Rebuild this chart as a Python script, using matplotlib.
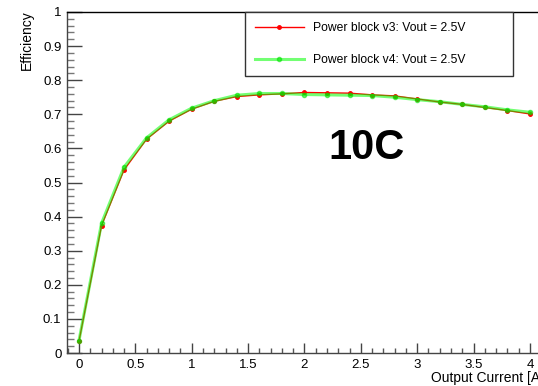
import numpy as np
import matplotlib.pyplot as plt
from matplotlib.ticker import MultipleLocator

plt.rcParams['font.family'] = ['Liberation Sans', 'DejaVu Sans']

# output current [A]
current = [0.0, 0.2, 0.4, 0.6, 0.8, 1.0, 1.2, 1.4, 1.6, 1.8, 2.0,
           2.2, 2.4, 2.6, 2.8, 3.0, 3.2, 3.4, 3.6, 3.8, 4.0]
# efficiency, power block v3 and v4 at Vout = 2.5V
eff_v3 = [0.034, 0.373, 0.537, 0.627, 0.680, 0.715, 0.738, 0.752, 0.757, 0.760, 0.764,
          0.763, 0.762, 0.757, 0.754, 0.745, 0.736, 0.729, 0.720, 0.711, 0.701]
eff_v4 = [0.036, 0.380, 0.545, 0.631, 0.684, 0.718, 0.740, 0.756, 0.761, 0.761, 0.758,
          0.757, 0.756, 0.755, 0.750, 0.743, 0.737, 0.729, 0.722, 0.713, 0.706]
labels = ["Power block v3: Vout = 2.5V", "Power block v4: Vout = 2.5V"]

fig = plt.figure(figsize=(5.38, 3.86), dpi=100)
W, H = 538.0, 386.0
# axes run past the right edge of the picture, like the cropped original
ax = fig.add_axes([67 / W, 1 - 353 / H, 485.5 / W, 341 / H])

ax.plot(current, eff_v3, color='#ff0000', lw=1.0, marker='o', ms=2.5,
        label=labels[0], zorder=3)
ax.plot(current, eff_v4, color='#00ff00', lw=2.2, alpha=0.55, marker='o', ms=3,
        mec='#00e000', mfc='#00e000', label=labels[1], zorder=4)

ax.set_xlim(-0.106, 4.2)
ax.set_ylim(0, 1)

ax.xaxis.set_minor_locator(MultipleLocator(0.1))
ax.yaxis.set_minor_locator(MultipleLocator(0.02))
ax.set_xticks(np.arange(0, 4.01, 0.5))
ax.set_xticklabels(['0', '0.5', '1', '1.5', '2', '2.5', '3', '3.5', '4'])
ax.set_yticks(np.arange(0, 1.01, 0.1))
ax.set_yticklabels(['0', '0.1', '0.2', '0.3', '0.4', '0.5', '0.6', '0.7', '0.8', '0.9', '1'])

ax.tick_params(axis='y', which='major', direction='in', length=10.5, width=1,
               labelsize=9.5, pad=4, color='#444444')
ax.tick_params(axis='y', which='minor', direction='in', length=5, width=1,
               color='#777777')
ax.tick_params(axis='x', which='major', direction='in', length=7.5, width=1,
               labelsize=9.5, pad=4, color='#444444')
ax.tick_params(axis='x', which='minor', direction='in', length=3.5, width=1,
               color='#555555')
for s in ax.spines.values():
    s.set_linewidth(1)
ax.spines['left'].set_color('#444444')
ax.spines['bottom'].set_color('#444444')

fig.text(27 / W, 1 - 10 / H, "Efficiency", rotation=90, ha='center', va='top',
         fontsize=10)
fig.text(431 / W, 1 - 382 / H, "Output Current [A]", ha='left', va='baseline',
         fontsize=10)

ax.text(2.55, 0.6, "10C", ha='center', va='center', fontsize=30,
        fontweight='bold')

leg = fig.legend(loc='upper left',
                 bbox_to_anchor=(245 / W, 1 - 75 / H, 268 / W, 63 / H),
                 mode='expand', fontsize=8.7, frameon=True, fancybox=False,
                 edgecolor='#333333', framealpha=1, borderaxespad=0,
                 numpoints=1, handlelength=4.0, labelspacing=1.65,
                 borderpad=0.85, handletextpad=0.75)
leg.get_frame().set_linewidth(1)

fig.savefig("out.png", dpi=100)
